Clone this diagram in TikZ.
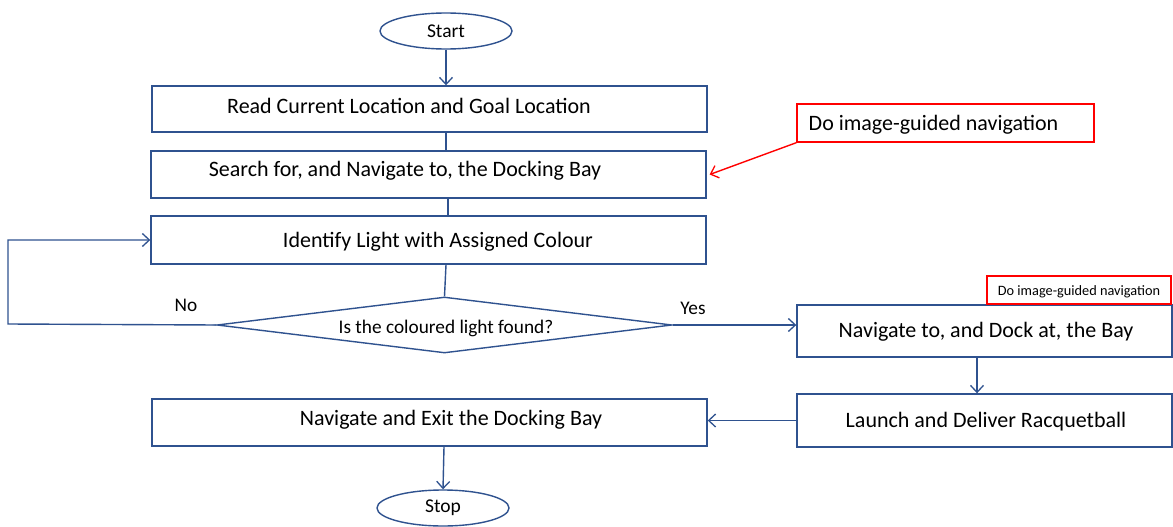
\documentclass[tikz,border=0pt]{standalone}
\usepackage{fontspec}
\setmainfont{Carlito}
\usetikzlibrary{arrows.meta,shapes.geometric}
\definecolor{flowblue}{RGB}{47,82,143}
\definecolor{noteRed}{RGB}{255,0,0}
\begin{document}
\begin{tikzpicture}[x=1pt,y=-1pt,
  line width=1.4pt,
  stepbox/.style={draw=flowblue,fill=white,rectangle,inner sep=0pt},
  terminal/.style={draw=flowblue,fill=white,ellipse,inner sep=0pt,minimum width=132pt,minimum height=36pt,font=\fontsize{19.5}{22}\selectfont},
  decision/.style={draw=flowblue,fill=white,diamond,inner sep=0pt,minimum width=455pt,minimum height=56pt},
  steptext/.style={font=\fontsize{22}{26}\selectfont,inner sep=0pt},
  smalltext/.style={font=\fontsize{19.3}{22}\selectfont,inner sep=0pt},
  note/.style={draw=noteRed,fill=white,rectangle,inner sep=0pt},
  flow/.style={draw=flowblue,-{Straight Barb[length=7pt,width=13pt,line width=1.3pt]}},
  plainflow/.style={draw=flowblue},
  redflow/.style={draw=noteRed,-{Straight Barb[length=7pt,width=13pt,line width=1.3pt]}}]
\useasboundingbox (0,0) rectangle (1173,527);
\fill[white] (0,0) rectangle (1173,527);

% terminals
\node[terminal] (start) at (446,31) {Start};
\node[terminal] (stop) at (443,508) {Stop};

% process boxes
\node[stepbox,minimum width=555pt,minimum height=46pt] (b1) at (429.5,109) {};
\node[steptext] (t1) at (409,106) {Read Current Location and Goal Location};
\node[stepbox,minimum width=555pt,minimum height=47pt] (b2) at (428.5,174.5) {};
\node[steptext] (t2) at (405,171) {Search for, and Navigate to, the Docking Bay};
\node[stepbox,minimum width=555pt,minimum height=48pt] (b3) at (428.5,240) {};
\node[steptext] (t3) at (438,242) {Identify Light with Assigned Colour};
\node[stepbox,minimum width=375pt,minimum height=52pt] (b4) at (984.5,331) {};
\node[steptext] (t4) at (986,332) {Navigate to, and Dock at, the Bay};
\node[stepbox,minimum width=375pt,minimum height=53pt] (b5) at (984.5,420.5) {};
\node[steptext] (t5) at (986,422) {Launch and Deliver Racquetball};
\node[stepbox,minimum width=555pt,minimum height=47pt] (b6) at (429.5,422.5) {};
\node[steptext] (t6) at (451,420) {Navigate and Exit the Docking Bay};

% decision
\node[decision] (d) at (444.5,325) {};
\node[smalltext] (dt) at (446,328) {Is the coloured light found?};
\node[smalltext] (no) at (186,305) {No};
\node[smalltext] (yes) at (693,308) {Yes};

% notes
\node[note,minimum width=297pt,minimum height=38pt] (n1) at (945.5,123) {};
\node[steptext] (n1t) at (933.5,125) {Do image-guided navigation};
\node[note,minimum width=184pt,minimum height=28pt] (n2) at (1079,290) {};
\node[font=\fontsize{14.3}{17}\selectfont,inner sep=0pt] (n2t) at (1079,292) {Do image-guided navigation};

% connectors
\draw[flow] (start.south) -- (start.south |- b1.north);
\draw[plainflow] (b1.south -| 446,0) -- (b2.north -| 446,0);
\draw[plainflow] (b2.south -| 448,0) -- (b3.north -| 448,0);
\draw[plainflow] (b3.south -| 446,0) -- (d.north);
\coordinate (loop) at (8,324);
\draw[flow] (d.west) -- (loop) |- (b3.west);
\draw[flow] (d.east) -- (d.east -| b4.west);
\draw[flow] (b4.south -| 977,0) -- (b5.north -| 977,0);
\draw[flow] (b5.west) -- (b5.west -| b6.east);
\draw[flow] (b6.south -| 444,0) -- (stop.north);
\draw[redflow] (n1.south west) -- ([xshift=3pt]b2.east);
\end{tikzpicture}
\end{document}
